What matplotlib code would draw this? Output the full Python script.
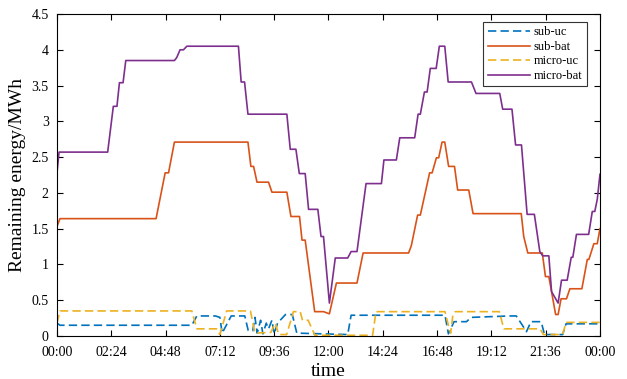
import numpy as np
import matplotlib
matplotlib.use('Agg')
import matplotlib.pyplot as plt

# Remaining energy of each store over one day (hour, MWh)
sub_uc_t = [0, 0.13, 5.96, 6.18, 7.0, 7.2, 7.3, 7.7, 8.3, 8.45, 8.65, 8.75, 8.85, 9.0, 9.1,
            9.25, 9.35, 9.5, 9.6, 9.75, 10.1, 10.4, 10.6, 12.85, 13.0, 17.15, 17.3, 17.55,
            18.1, 18.3, 20.0, 20.3, 20.55, 20.75, 20.95, 21.4, 21.55, 22.35, 22.5, 24]
sub_uc = [0.18, 0.15, 0.15, 0.28, 0.28, 0.26, 0.04, 0.28, 0.28, 0.08, 0.07, 0.26, 0.04, 0.22, 0.03,
          0.18, 0.10, 0.22, 0.03, 0.18, 0.30, 0.30, 0.04, 0.02, 0.29, 0.29, 0.03, 0.20,
          0.20, 0.26, 0.28, 0.28, 0.16, 0.06, 0.20, 0.20, 0.02, 0.02, 0.17, 0.17]

sub_bat_t = [0, 0.13, 4.38, 4.78, 4.93, 5.19, 8.44, 8.57, 8.69, 8.84, 9.35, 9.5, 10.16, 10.34,
             10.72, 10.83, 10.97, 11.39, 11.78, 12.04, 12.35, 13.26, 13.53, 15.54, 15.66, 15.94,
             16.06, 16.47, 16.58, 16.77, 16.87, 17.02, 17.14, 17.31, 17.57, 17.71, 18.2, 18.39,
             20.52, 20.63, 20.81, 21.45, 21.59, 21.74, 22.04, 22.15, 22.28, 22.52, 22.67, 23.2,
             23.44, 23.51, 23.73, 23.88, 24]
sub_bat = [1.53, 1.64, 1.64, 2.28, 2.28, 2.71, 2.71, 2.37, 2.37, 2.15, 2.15, 2.01, 2.01, 1.67,
           1.67, 1.34, 1.34, 0.34, 0.34, 0.31, 0.74, 0.74, 1.16, 1.16, 1.26, 1.69,
           1.69, 2.28, 2.28, 2.49, 2.49, 2.71, 2.71, 2.37, 2.37, 2.04, 2.04, 1.71,
           1.71, 1.39, 1.16, 1.16, 0.83, 0.83, 0.30, 0.30, 0.52, 0.52, 0.66, 0.66,
           1.07, 1.07, 1.29, 1.29, 1.50]

micro_uc_t = [0, 0.13, 5.96, 6.18, 7.05, 7.2, 7.5, 8.55, 8.75, 9.45, 9.65, 9.8, 10.15, 10.45,
              10.75, 10.85, 11.1, 11.4, 13.95, 14.1, 17.15, 17.3, 17.4, 17.5, 17.6, 19.55,
              19.75, 21.35, 21.5, 22.35, 22.5, 24]
micro_uc = [0.18, 0.35, 0.35, 0.10, 0.10, 0.02, 0.35, 0.35, 0.04, 0.05, 0.18, 0.02, 0.02, 0.34,
            0.34, 0.22, 0.22, 0.01, 0.01, 0.34, 0.34, 0.15, 0.04, 0.30, 0.34, 0.34,
            0.10, 0.10, 0.02, 0.02, 0.19, 0.19]

micro_bat_t = [0, 0.09, 2.24, 2.49, 2.65, 2.76, 2.92, 3.04, 5.19, 5.29, 5.44, 5.59, 5.74, 8.02,
               8.14, 8.29, 8.44, 10.16, 10.31, 10.56, 10.71, 10.97, 11.12, 11.53, 11.67, 11.78,
               12.04, 12.3, 12.85, 13.0, 13.26, 13.66, 14.34, 14.45, 15.0, 15.15, 15.81, 15.96,
               16.06, 16.24, 16.36, 16.5, 16.76, 16.9, 17.14, 17.29, 18.32, 18.52, 19.57, 19.7,
               20.11, 20.27, 20.53, 20.78, 21.1, 21.34, 21.47, 21.74, 21.86, 22.15, 22.3, 22.55,
               22.73, 22.8, 22.96, 23.5, 23.66, 23.77, 23.88, 24]
micro_bat = [2.28, 2.57, 2.57, 3.21, 3.21, 3.54, 3.54, 3.85, 3.85, 3.89, 4.0, 4.0, 4.05, 4.05,
             3.55, 3.55, 3.10, 3.10, 2.61, 2.61, 2.27, 2.27, 1.77, 1.77, 1.39, 1.39,
             0.46, 1.09, 1.09, 1.18, 1.18, 2.13, 2.13, 2.46, 2.46, 2.77, 2.77, 3.10,
             3.10, 3.41, 3.41, 3.74, 3.74, 4.05, 4.05, 3.55, 3.55, 3.39, 3.39, 3.17,
             3.17, 2.67, 2.67, 1.70, 1.70, 1.18, 1.12, 1.12, 0.62, 0.46, 0.78, 0.78,
             1.10, 1.10, 1.42, 1.42, 1.74, 1.74, 1.91, 2.26]

tick_hours = np.arange(0, 24.01, 2.4)
tick_labels = ['00:00', '02:24', '04:48', '07:12', '09:36', '12:00',
               '14:24', '16:48', '19:12', '21:36', '00:00']

plt.rcParams['font.family'] = ['Liberation Serif', 'DejaVu Serif']

fig = plt.figure(figsize=(6.27, 3.79), dpi=100)
ax = fig.add_axes([0.0909, 0.1135, 0.866, 0.8495])

ax.plot(sub_uc_t, sub_uc, color='#0072BD', lw=1.2, dashes=(5, 2.5), label='sub-uc')
ax.plot(sub_bat_t, sub_bat, color='#D95319', lw=1.2, label='sub-bat')
ax.plot(micro_uc_t, micro_uc, color='#EDB120', lw=1.2, dashes=(5, 2.5), label='micro-uc')
ax.plot(micro_bat_t, micro_bat, color='#7E2F8E', lw=1.2, label='micro-bat')

ax.set_xlim(0, 24)
ax.set_ylim(0, 4.5)
ax.set_xticks(tick_hours)
ax.set_xticklabels(tick_labels)
ax.set_yticks(np.arange(0, 4.51, 0.5))
ax.set_yticklabels(['0', '0.5', '1', '1.5', '2', '2.5', '3', '3.5', '4', '4.5'])
ax.tick_params(direction='in', top=True, right=True, labelsize=10, length=4, width=0.8)
ax.tick_params(axis='x', pad=7)
ax.tick_params(axis='y', pad=6)
for s in ax.spines.values():
    s.set_linewidth(0.8)

ax.set_xlabel('time', fontsize=14, labelpad=3)
ax.set_ylabel('Remaining energy/MWh', fontsize=14, labelpad=4)

leg = ax.legend(loc='upper right', bbox_to_anchor=(0.976, 0.975), borderaxespad=0,
                fontsize=9, fancybox=False, framealpha=1, edgecolor='#333333',
                handlelength=3.4, handletextpad=0.3, borderpad=0.35, labelspacing=0.2)
leg.get_frame().set_linewidth(0.8)

fig.savefig('out.png', dpi=100)
